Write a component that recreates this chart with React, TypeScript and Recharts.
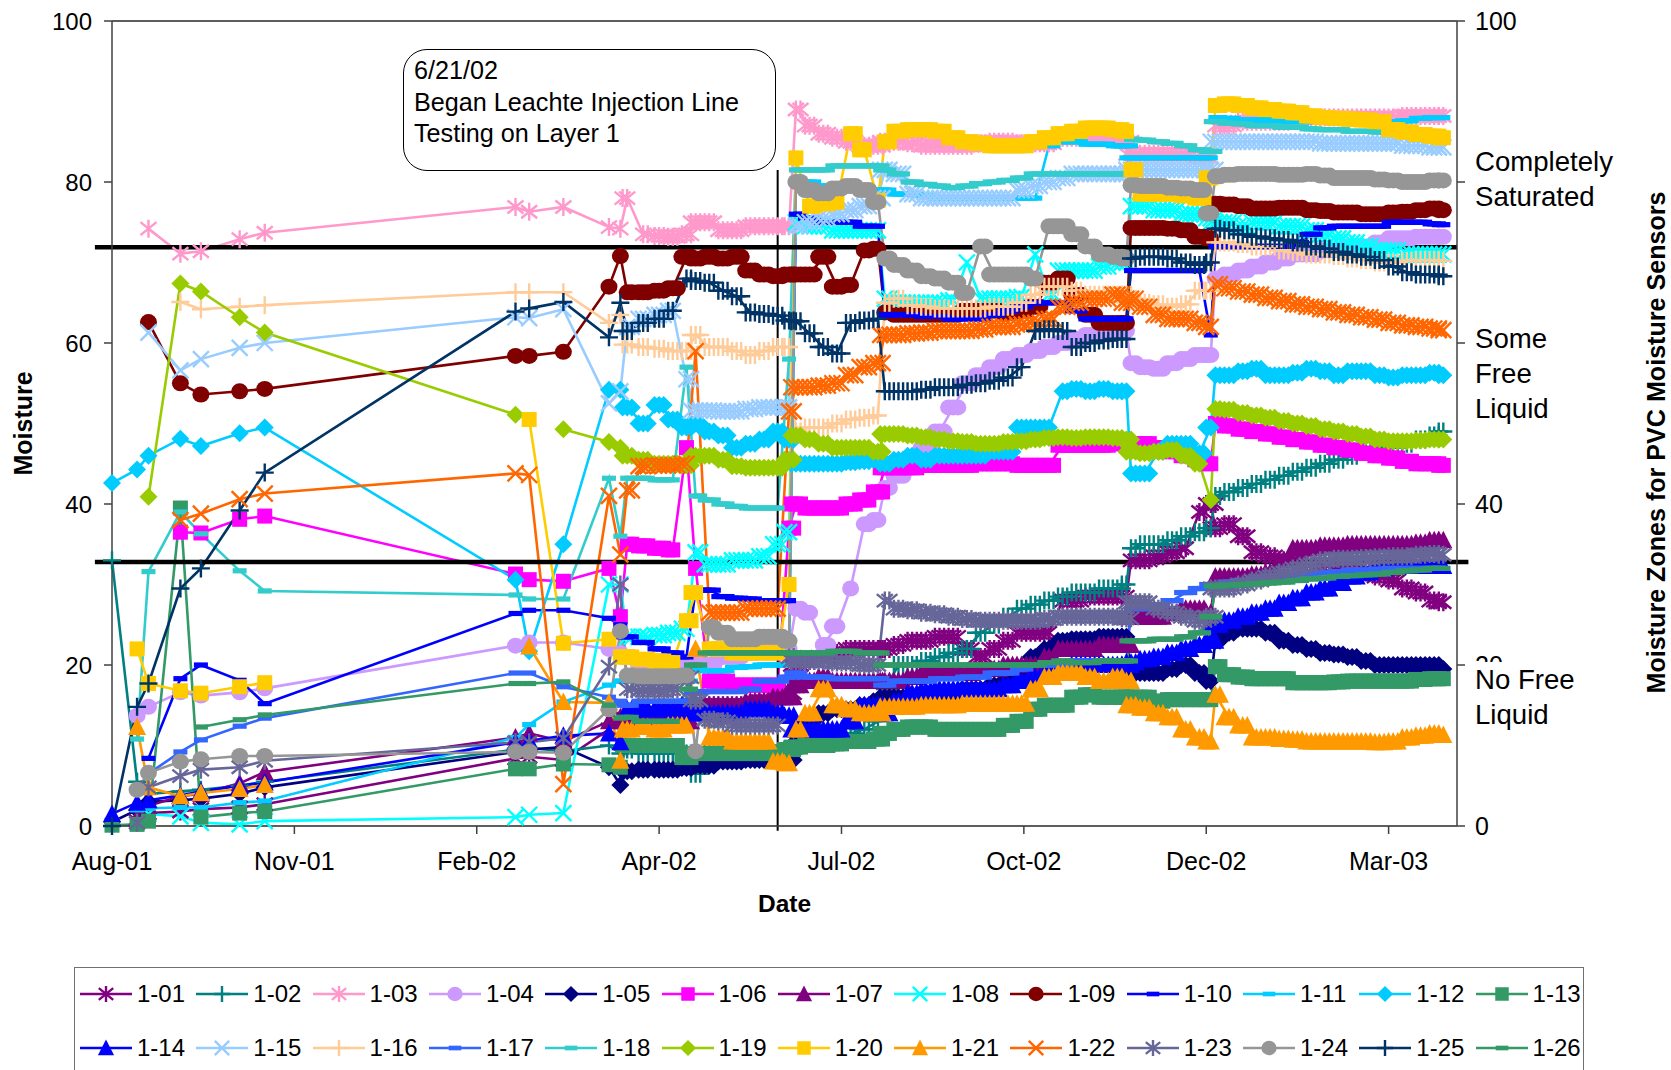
import React from 'react'
import { LineChart, Line, XAxis, YAxis, CartesianGrid, ReferenceLine } from 'recharts'

// days since the start of the axis; one group per line: early readings, then the dense logging stretches
const dates = [
  0, 11, 16, 30, 39, 56, 67, 177, 183, 198, 218, 223,
  226, 233, 240, 246, 252,
  256, 262, 268, 274, 280, 286, 292, 297,
  300, 306, 312, 318, 324, 330, 336,
  339, 345, 351, 357, 363, 369, 375, 381, 387, 393, 399, 405, 411, 417, 423, 429, 435, 441, 445,
  447, 453, 459, 465, 471, 477, 482,
  484, 490, 496, 502, 508, 514, 520, 526, 532, 538, 544, 550, 556, 562, 568, 574, 580, 584
]
const FIRST_DENSE = 12

const xTicks = [0, 80, 160, 240, 320, 400, 480, 560]
const xTickLabels = ['Aug-01', 'Nov-01', 'Feb-02', 'Apr-02', 'Jul-02', 'Oct-02', 'Dec-02', 'Mar-03']
const yTicks = [0, 20, 40, 60, 80, 100]
const rightLabels = [0, 20, 40, 100]

const s01 = [
  null, 0.6, 1.6, 1.8, 2.1, 2.3, 2.7, 8.4, 8.6, 8.2, 12, 13,
  13.5, 13.5, 14, 14, 14,
  15, 15, 15, 15, 15, 15.5, 16, 16.5,
  20, 20.5, 21, 21.5, 22, 22, 22,
  22, 22.5, 23, 23, 23.5, 23.5, 22, 21, 22, 23, 24, 24, 24, 28, 28, 28.5, 28.5, 28.5, 28.5,
  33, 33, 33.5, 34, 34.5, 39, 40,
  37, 37.5, 36, 34, 33.5, 33, 33, 32.5, 32.5, 32, 32, 31.5, 31, 30.5, 29.5, 29, 28, 27.8
]
const s02 = [
  33, 5.5, 4, 4.3, 4.5, 5, 5.5, 9.5, 9.7, 9.3, 10, 9,
  9.5, 9, 9, 9, 9,
  6.5, 9, 9, 9, 9, 9, 9, 9.5,
  10, 10.5, 11, 11, 11.5, 12, 13,
  17, 20, 20, 20.5, 21, 21.5, 22, 24, 25, 26, 27, 27.5, 28, 28.5, 29, 29, 29.5, 29.5, 30,
  34.5, 35, 35, 35.5, 36, 36.5, 37,
  41, 41.5, 42, 42.5, 43, 43.5, 44, 44.5, 45, 45.5, 46, 46.5, 47, 47, 47.5, 48, 48.5, 49
]
const s03 = [
  null, null, 74.2, 71.1, 71.4, 72.9, 73.7, 76.9, 76.3, 76.9, 74.4, 74.2,
  78, 73.5, 73.3, 73.2, 73.5,
  75, 75, 74, 74, 74.5, 74.5, 74.5, 74.5,
  89, 87, 86, 85.5, 85, 84.5, 84.5,
  85, 85, 84.8, 84.5, 84.5, 84.5, 84.5, 84.8, 85, 85, 84.8, 84.8, 84.8, 85.5, 85.5, 85.5, 85.5, 85.3, 85,
  83.5, 83.5, 83.5, 83.5, 83.5, 83, 83,
  87, 87, 87.5, 87.5, 87.5, 87.5, 88, 88, 88, 88, 88, 88, 88, 88, 88.2, 88.2, 88.2, 88.2
]
const s04 = [
  null, 13.7, 14.8, 16.6, 16.2, 16.6, 17.1, 22.4, 22.8, 22.8, 22, 21.5,
  21, 20, 20, 20, 20,
  20, 20, 21, 21, 21.5, 22, 22.5, 22,
  27, 26.5, 22.5, 24.8, 29.5, 37.5, 38,
  42, 43.5, 45, 47, 49, 52, 55, 56, 57, 58, 58.5, 59, 59.5, 60, 60.5, 61, 61, 61.5, 61.5,
  57.5, 57, 56.8, 57.5, 58, 58.5, 58.5,
  68, 68.5, 69, 69.5, 70, 70.5, 71, 71, 71.5, 71.5, 72, 72, 72.5, 73, 73, 73.2, 73.2, 73.2
]
const s05 = [
  0.5, 2, 3, 3.2, 3.4, 4, 4.8, 9.2, 9.5, 9.8, 7.3, 5.1,
  6.8, 7, 7, 7, 7.2,
  7.5, 7.5, 8, 8, 8.2, 8.2, 8.2, 8.2,
  10, 13, 14, 14.5, 14.5, 15, 15.5,
  16, 16, 16, 16.5, 16.5, 16.5, 17, 17, 17.5, 18, 19, 21, 22, 23, 23.2, 23.2, 23.5, 23.5, 23.5,
  19, 19, 19, 19.5, 20, 19, 18,
  23, 24, 24.5, 24.5, 24, 23, 22.5, 22, 21.5, 21.3, 21, 20.5, 20, 20, 20, 20, 20, 19.5
]
const s06 = [
  null, null, null, 36.5, 36.4, 38.1, 38.5, 31.3, 30.6, 30.4, 32, 26,
  35, 34.8, 34.5, 34.3, 47,
  32, 18, 18, 17.5, 17.5, 17.5, 17.5, 37,
  40, 39.5, 39.5, 39.5, 40, 40.5, 41.5,
  44.5, 44.5, 44.5, 44.8, 44.8, 44.8, 44.8, 45, 45, 45, 44.8, 44.8, 44.8, 47.3, 47.3, 47.3, 47.3, 47.5, 47.5,
  47.5, 47.5, 47, 46.5, 46, 45.5, 45,
  50, 49.7, 49.3, 49, 48.7, 48.3, 48, 47.7, 47.3, 47, 46.7, 46.3, 46, 45.7, 45.3, 45, 45, 44.8
]
const s07 = [
  null, 1, 2.5, 3.7, 4, 5.3, 6.7, 11, 11.5, 10.5, 13, 13.5,
  13, 13, 13, 13, 13,
  15, 15, 15, 15, 15.5, 15.5, 16, 16,
  17.5, 18, 18.5, 18, 18, 18, 18,
  18, 18, 18.5, 19, 19, 19, 19, 19.5, 19.5, 20, 20, 20, 21, 22, 22, 22, 22.5, 22.5, 22.5,
  26, 26, 26, 26.5, 27, 27, 26.5,
  31, 31, 31, 31.2, 31.5, 33, 34.5, 34.5, 34.8, 34.8, 35, 35, 35, 35, 35, 35.2, 35.5, 35.5
]
const s08 = [
  null, null, 1.5, 1.2, 0.4, 0.2, 0.6, 1.1, 1.4, 1.6, 30, 30,
  23.5, 23.5, 23.7, 24, 24.5,
  34, 32.5, 32.5, 33, 33, 33.5, 35, 36.5,
  75, 74.5, 74.5, 74, 74, 74, 74,
  65.5, 65, 65, 65, 65, 65.3, 70, 65.5, 65.5, 65.5, 65.7, 71, 66, 69, 69, 69, 69.5, 70, 70,
  77, 77, 76.5, 76.5, 76, 76, 75.5,
  75, 75, 74.5, 75, 75, 74.5, 74.5, 74, 73.5, 73, 72.5, 72, 71.5, 71.5, 71, 71, 71, 71
]
const s09 = [
  null, null, 62.6, 55, 53.6, 54, 54.3, 58.4, 58.4, 58.9, 67, 70.8,
  66.3, 66.3, 66.5, 66.8, 70.7,
  70.5, 70.7, 70.5, 70.7, 69, 68.5, 68.3, 68.5,
  68.5, 68.5, 70.7, 67, 67.2, 71.5, 71.7,
  63.8, 63.5, 63.5, 63.5, 63.5, 63.5, 64, 64, 64, 63.7, 64, 64.5, 67.5, 68, 66, 63.5, 62.5, 62.5, 62.5,
  74.3, 74.3, 74.3, 74.2, 74, 73.2, 73,
  77.3, 77.2, 77, 76.7, 76.7, 76.8, 76.8, 76.5, 76.4, 76.2, 76.2, 76, 76, 76.2, 76.3, 76.5, 76.7, 76.5
]
const s10 = [
  0.5, null, 8.4, 18.3, 20, 18.1, 15.2, 26.4, 26.8, 26.8, 25.8, 25,
  23.5, 22.8, 22, 21.5, 21,
  29.3, 29.3, 28.5, 28.3, 28.2, 28, 28, 28,
  76, 75.5, 75, 75, 75, 74.5, 74.5,
  63.5, 63.5, 63.5, 63.3, 63.3, 63, 63, 63, 63.5, 64, 64.5, 65, 65, 65, 64, 63, 63, 63, 63,
  69, 69, 69, 69, 69, 69, 61,
  72, 72, 72, 72, 72, 72, 72.5, 73.5, 74.3, 74.5, 74.5, 74.5, 74.5, 75, 75, 75, 74.8, 74.7
]
const s11 = [
  null, 2, 2.2, 2.3, 2.3, 2.9, 3.1, 11, 12.6, 15.4, 17.5, 18,
  18, 18, 18, 18, 18,
  19.5, 19.3, 19.3, 19.7, 19.8, 20, 20, 20,
  80, 80, 79.5, 79.5, 79.5, 79.3, 79,
  79, 78.5, 78.5, 78.3, 78, 78, 78, 78, 78, 78, 78, 78, 84.5, 85, 85, 84.7, 84.7, 84.5, 84.5,
  83, 83, 83, 83, 83, 83, 83,
  88, 87.9, 87.7, 87.7, 87.7, 87.5, 87.5, 87.5, 87.5, 87.5, 87.5, 87.5, 87.5, 87.5, 87.6, 87.9, 88, 88
]
const s12 = [
  42.6, 44.3, 46, 48.1, 47.2, 48.8, 49.5, 30.6, 21.7, 35, 54.2, 54.2,
  52, 50, 52.3, 50.5, 49.5,
  50, 49, 48.5, 47, 47.5, 48, 49, 48,
  45, 45, 45, 45, 45.2, 45.3, 45.5,
  45, 45.5, 46, 45.5, 46, 46, 46, 46, 46.5, 46.5, 49.5, 49.5, 49.5, 54, 54.3, 54, 54.3, 54, 54,
  43.8, 43.8, 46.5, 47.5, 47.5, 46.3, 49.5,
  56, 56, 56.5, 56.8, 56, 56, 56.3, 56.8, 56.5, 56, 56.5, 56.5, 56, 55.7, 56, 56, 56.3, 56
]
const s13 = [
  0.1, 0.2, 0.6, 39.5, 1.1, 1.6, 1.8, 7.1, 7.1, 7.7, 7.6, 7.3,
  10, 10, 10, 10, 8.5,
  9, 9, 9, 9, 9, 9, 9.2, 9.5,
  9.8, 10, 10, 10.2, 10.5, 10.5, 10.8,
  11.5, 12, 12.3, 12.3, 12, 12, 12, 12, 12, 12.5, 13, 14.5, 15, 15, 16, 16.3, 16, 16, 16,
  16, 16, 15.5, 15.7, 15.7, 15.7, 15.7,
  19.8, 18.8, 18.5, 18.3, 18.3, 18.3, 17.8, 17.8, 17.8, 17.9, 18, 18, 18, 18, 18, 18.2, 18.3, 18.3
]
const s14 = [
  1.5, 2.9, 3.2, 3.8, 4.3, 5, 5.4, 10.4, 10.6, 11.2, 11.5, 10.4,
  14.5, 14.5, 14.5, 14.5, 15,
  14, 14, 14, 14, 14.5, 14.5, 14, 13.7,
  12, 12, 12, 12, 13, 15, 15,
  14, 15.5, 16.5, 16.8, 17, 17, 17, 17, 17, 17.5, 18, 18.5, 19, 19.5, 20, 20, 20, 20, 20,
  20.3, 20.7, 21, 21.5, 22, 22.5, 23,
  25, 25.5, 26, 26.5, 27, 27.7, 28.3, 29, 29.5, 30.2, 31, 31.5, 32, 32.2, 32.3, 32.3, 32.3, 32.3
]
const s15 = [
  null, null, 61.3, 56.6, 58, 59.4, 60, 63.2, 63.1, 64.2, 52.5, 54,
  62, 63, 63.5, 64, 55.5,
  51.6, 51.6, 51.5, 51.5, 51.8, 52, 52, 52,
  74.5, 75, 75.5, 76, 76.5, 77, 78,
  81.5, 81, 78.5, 78, 78, 78, 78, 78, 78, 78, 79, 79.5, 80, 80.5, 81, 81, 81, 81, 81,
  81.5, 81.5, 81.5, 81.5, 81.5, 81.5, 81.5,
  85, 85, 85, 85, 85, 85, 85, 85, 84.8, 84.8, 84.8, 84.8, 84.8, 84.8, 84.5, 84.5, 84.3, 84.3
]
const s16 = [
  null, null, null, 65.1, 64.2, 64.5, 64.7, 66.3, 66.3, 66.3, 62.5, 63.5,
  59.8, 59.5, 59.3, 59, 59,
  61, 59.5, 59.5, 59, 58.5, 59, 59.5, 59.5,
  49, 49.5, 49.5, 50, 50.5, 50.7, 51,
  65, 65.5, 64.7, 64.5, 64.3, 64.3, 64.3, 64.3, 64.5, 64.5, 65, 66, 67, 67, 66.5, 66, 66, 66, 66,
  65.5, 65, 64.8, 64.5, 64.8, 66.5, 66.5,
  72.5, 72.5, 72.3, 72, 72, 71.5, 71.3, 71, 71, 70.8, 70.5, 70.3, 70, 70, 70.2, 70.3, 70.3, 70.2
]
const s17 = [
  null, null, 6.5, 9.2, 10.7, 12.4, 13.4, 19, 19, 17.3, 16, 15.5,
  15, 15.5, 15.5, 15.5, 15.5,
  16.5, 16.7, 16.7, 16.7, 17, 18, 18, 18.5,
  19, 18.5, 18.5, 18.3, 18.3, 18.3, 18.3,
  17.5, 18, 18, 18, 18.3, 18.3, 18.5, 18.5, 19, 19, 19.5, 20, 20, 20, 20.5, 20.5, 20.5, 20.5, 20.5,
  27, 27, 27.5, 28, 29, 29.5, 30,
  30, 30.3, 30.5, 30.7, 30.8, 31, 31.2, 31.4, 31.5, 31.6, 31.8, 31.8, 31.9, 32, 32, 32, 32, 32
]
const s18 = [
  null, 10.8, 31.6, 39, 36.3, 31.7, 29.2, 28.7, 28.2, 28.2, 43.2, 36,
  43.2, 43.2, 43, 43, 57,
  41, 40.5, 40, 39.7, 39.5, 39.5, 39.5, 58,
  81.5, 81.5, 81.5, 82, 82, 82, 82,
  81.5, 81, 80, 79.7, 79.5, 79.3, 79.5, 79.8, 80, 80.2, 80.5, 81, 81, 81, 81, 81, 81, 81, 81,
  85.3, 85.2, 85, 84.8, 84.5, 84, 83.8,
  87.5, 87.3, 87.2, 87, 87, 86.8, 86.8, 86.6, 86.5, 86.5, 86.3, 86.3, 86.2, 86, 86, 86, 86, 86
]
const s19 = [
  null, null, 40.9, 67.4, 66.4, 63.2, 61.3, 51.1, null, 49.3, 47.7, 47,
  46, 45.5, 45, 45, 44.8,
  46, 46, 45.5, 44.7, 44.5, 44.5, 44.5, 45.5,
  48.5, 48, 47.5, 47, 47, 47, 46.5,
  48.7, 48.7, 48.5, 48.3, 48, 47.8, 47.7, 47.5, 47.5, 47.7, 47.8, 48, 48.2, 48.3, 48.2, 48.3, 48.3, 48.2, 48,
  46.5, 46.3, 46.5, 46.7, 46, 45, 40.5,
  51.8, 51.7, 51.3, 51, 50.7, 50.3, 50, 49.7, 49.3, 49, 48.7, 48.4, 48, 47.8, 47.8, 47.9, 48, 48
]
const s20 = [
  null, 22, 17.7, 16.8, 16.5, 17.3, 17.8, null, 50.5, 22.7, 23.2, 21,
  21, 20.7, 20.5, 20.3, 25.5,
  29, 22, 22, 21.5, 21.5, 21.5, 21.5, 30,
  83, 77, 77.3, 77.5, 86, 84, 77.7,
  85, 86.3, 86.5, 86.5, 86.3, 85.5, 85, 84.8, 84.5, 84.5, 84.5, 85, 85.5, 86, 86.3, 86.7, 86.7, 86.5, 86.3,
  81.5, 78.5, 78.5, 78.5, 78.3, 78, 80.5,
  89.5, 89.7, 89.5, 89.2, 89, 88.8, 88.6, 88.2, 88, 87.9, 87.8, 87.7, 87.5, 86.5, 86.2, 85.9, 85.7, 85.5
]
const s21 = [
  null, 12.3, 4.8, 3.7, 4.1, 4.6, 5.1, null, 22.3, 15.4, 15.3, 8.1,
  12, 12.3, 12, 12.5, 12.5,
  22, 11, 11, 10.5, 10.5, 10.5, 8, 7.8,
  12, 14, 17, 15, 14.5, 14, 14,
  14.8, 14.8, 14.8, 15, 15, 15, 15.2, 15.2, 15.2, 15.2, 15.2, 17, 18.5, 19, 19, 18.5, 18, 18.5, 18,
  15, 14.7, 14, 13.5, 12, 11, 10.5,
  16.3, 13.5, 12.5, 11, 11, 10.8, 10.7, 10.5, 10.5, 10.5, 10.5, 10.5, 10.4, 10.5, 11, 11.2, 11.5, 11.3
]
const s22 = [
  null, null, null, 38, 38.8, 40.6, 41.3, 43.8, 43.6, 5.2, 41, 33.7,
  41.7, 44.7, 44.8, 44.8, 45,
  59, 26.5, 26.5, 26.5, 27, 27, 27, 51.5,
  54.5, 54.5, 54.7, 55, 56, 57, 57.5,
  61, 61, 61.2, 61.3, 61.5, 61.5, 61.5, 61.7, 62, 62, 62.3, 62.5, 63, 64.5, 65, 65.5, 65.5, 66, 65,
  65.5, 64.5, 63.5, 63, 63, 62.5, 62,
  67.3, 66.8, 66.4, 66, 65.6, 65.2, 64.8, 64.5, 64.2, 63.8, 63.5, 63.2, 62.9, 62.5, 62.2, 62, 61.8, 61.6
]
const s23 = [
  null, 0.4, 4.8, 6.2, 7, 7.3, 8.1, 10.4, 10.4, 10.9, 19.8, 30,
  17, 16.8, 16.8, 17, 18.5,
  15.6, 13.2, 13, 12.5, 12.5, 12.5, 12.5, 21,
  20.5, 20.5, 20.5, 20.3, 20.3, 20, 20,
  28, 27, 26.8, 26.5, 26.3, 26, 25.7, 25.5, 25.5, 25.5, 25.5, 25.5, 25.7, 26, 26, 26, 26, 26, 25.8,
  27.8, 27.8, 27, 26.5, 26, 25.5, 26,
  29.5, 29.5, 30, 30.5, 31, 31.5, 32, 32.5, 33, 33.2, 33.2, 33.3, 33.4, 33.5, 33.5, 33.7, 33.8, 33.7
]
const s24 = [
  null, 4.5, 6.6, 8, 8.3, 8.7, 8.7, 9.2, 9.2, 9.1, 14.5, 24.2,
  18.7, 18.6, 18.6, 18.6, 18.7,
  9.3, 24.7, 24, 23.2, 23.2, 23.5, 23.5, 23,
  80, 79, 78.6, 79.2, 79.5, 79, 77.5,
  70.5, 69.7, 69, 68.3, 68, 67.5, 66.2, 72, 68.5, 68.5, 68.5, 68, 74.5, 74.5, 73.5, 72, 71, 70.7, 70.5,
  79.6, 79.5, 79.5, 79.3, 79.2, 79, 76.1,
  80.7, 80.9, 81, 81, 81, 80.9, 80.9, 81, 80.8, 80.5, 80.5, 80.5, 80.3, 80.2, 80, 80, 80.2, 80.2
]
const s25 = [
  0, 14.8, 17.7, 29.5, 32, 39.2, 43.9, 63.9, 64.3, 65.1, 60.7, 65,
  61.5, 62.5, 63, 64, 68,
  67.7, 67.5, 66.5, 65.8, 63.8, 63.6, 63.4, 62.8,
  62.7, 61.2, 59.5, 58.7, 62.5, 62.8, 63,
  54, 54, 54, 54.2, 54.5, 54.5, 54.8, 55, 55.3, 55.7, 57, 61.5, 61.7, 61.5, 59.5, 60, 60.3, 60.5, 60.5,
  70.5, 70.7, 70.7, 70.5, 70, 69.7, 70,
  74.2, 74, 73.5, 73.2, 73, 72.8, 72.5, 72, 71.7, 71.3, 71, 70.7, 70.3, 69.5, 68.8, 68.5, 68.5, 68.3
]
const s26 = [
  null, null, null, null, 12.3, 13.2, 13.8, 17.7, 17.7, 17.9, 15, 13.4,
  13.5, 13, 13, 13, 17,
  20, 21.5, 21.5, 21.5, 21.5, 21.5, 21.5, 21.5,
  21.5, 21.5, 21.5, 21.7, 21.7, 21.5, 21.5,
  20, 20, 20, 20, 20, 20, 20, 20, 20, 20, 20, 20, 20.3, 20.5, 20.3, 20.3, 20.5, 20.5, 20.5,
  23, 23, 23.2, 23.2, 23.5, 24, 26,
  29.8, 29.9, 30, 30.1, 30.2, 30.3, 30.5, 30.7, 30.8, 31, 31.1, 31.2, 31.3, 31.5, 31.7, 31.8, 32, 32
]

const sensors = [
  { name: '1-01', values: s01, color: '#800080', marker: 'star' },
  { name: '1-02', values: s02, color: '#008080', marker: 'plus' },
  { name: '1-03', values: s03, color: '#FF99CC', marker: 'star' },
  { name: '1-04', values: s04, color: '#CC99FF', marker: 'circle' },
  { name: '1-05', values: s05, color: '#000080', marker: 'diamond' },
  { name: '1-06', values: s06, color: '#FF00FF', marker: 'square' },
  { name: '1-07', values: s07, color: '#800080', marker: 'triangle' },
  { name: '1-08', values: s08, color: '#00FFFF', marker: 'cross' },
  { name: '1-09', values: s09, color: '#800000', marker: 'circle' },
  { name: '1-10', values: s10, color: '#0000FF', marker: 'dash' },
  { name: '1-11', values: s11, color: '#00CCFF', marker: 'dash' },
  { name: '1-12', values: s12, color: '#00CCFF', marker: 'diamond' },
  { name: '1-13', values: s13, color: '#339966', marker: 'square' },
  { name: '1-14', values: s14, color: '#0000FF', marker: 'triangle' },
  { name: '1-15', values: s15, color: '#99CCFF', marker: 'cross' },
  { name: '1-16', values: s16, color: '#FFCC99', marker: 'plus' },
  { name: '1-17', values: s17, color: '#3366FF', marker: 'dash' },
  { name: '1-18', values: s18, color: '#33CCCC', marker: 'dash' },
  { name: '1-19', values: s19, color: '#99CC00', marker: 'diamond' },
  { name: '1-20', values: s20, color: '#FFCC00', marker: 'square' },
  { name: '1-21', values: s21, color: '#FF9900', marker: 'triangle' },
  { name: '1-22', values: s22, color: '#FF6600', marker: 'cross' },
  { name: '1-23', values: s23, color: '#666699', marker: 'star' },
  { name: '1-24', values: s24, color: '#969696', marker: 'circle' },
  { name: '1-25', values: s25, color: '#003366', marker: 'plus' },
  { name: '1-26', values: s26, color: '#339966', marker: 'dash' }
]

const chartData = dates.map((day, i) => {
  const row: any = { day }
  sensors.forEach((s) => {
    row[s.name] = s.values[i]
  })
  return row
})

const FONT = '"Liberation Sans", Arial, sans-serif'

function markerShape(kind: string, color: string, x: number, y: number, s = 1) {
  const lw = 2.4
  switch (kind) {
    case 'square':
      return <rect x={x - 7.5 * s} y={y - 7.5 * s} width={15 * s} height={15 * s} fill={color} />
    case 'circle':
      return <ellipse cx={x} cy={y} rx={8.5 * s} ry={8 * s} fill={color} />
    case 'diamond':
      return <path d={`M${x - 9 * s} ${y}L${x} ${y - 9 * s}L${x + 9 * s} ${y}L${x} ${y + 9 * s}Z`} fill={color} />
    case 'triangle':
      return <path d={`M${x} ${y - 9.5 * s}L${x + 9 * s} ${y + 8 * s}L${x - 9 * s} ${y + 8 * s}Z`} fill={color} />
    case 'dash':
      return <rect x={x - 7 * s} y={y - 2.6 * s} width={14 * s} height={5.2 * s} fill={color} />
    case 'plus':
      return <path d={`M${x - 9 * s} ${y}H${x + 9 * s}M${x} ${y - 9 * s}V${y + 9 * s}`} stroke={color} strokeWidth={lw} fill="none" />
    case 'cross':
      return <path d={`M${x - 8 * s} ${y - 8 * s}L${x + 8 * s} ${y + 8 * s}M${x + 8 * s} ${y - 8 * s}L${x - 8 * s} ${y + 8 * s}`} stroke={color} strokeWidth={lw} fill="none" />
    default:
      return (
        <path
          d={`M${x} ${y - 9 * s}V${y + 9 * s}M${x - 8 * s} ${y - 6.5 * s}L${x + 8 * s} ${y + 6.5 * s}M${x + 8 * s} ${y - 6.5 * s}L${x - 8 * s} ${y + 6.5 * s}`}
          stroke={color}
          strokeWidth={lw}
          fill="none"
        />
      )
  }
}

// the logger read daily, so markers overlap into bands: widen a dense reading towards close neighbours
function isClose(a: any, b: any) {
  return a != null && b != null && Math.abs(a - b) < 4
}

function sensorDot(s: any, p: any) {
  if (p.cy == null || p.value == null) return <g key={`${s.name}-${p.index}`} />
  const i = p.index
  const dense = i >= FIRST_DENSE
  return (
    <g key={`${s.name}-${i}`}>
      {dense && isClose(s.values[i], s.values[i - 1]) && markerShape(s.marker, s.color, p.cx - 4.6, p.cy)}
      {markerShape(s.marker, s.color, p.cx, p.cy)}
      {dense && isClose(s.values[i], s.values[i + 1]) && markerShape(s.marker, s.color, p.cx + 4.6, p.cy)}
    </g>
  )
}

const labelStyle: React.CSSProperties = {
  position: 'absolute',
  fontFamily: FONT,
  fontSize: 27.6,
  color: '#000',
  background: '#fff',
  lineHeight: '35px',
  whiteSpace: 'pre',
  paddingRight: 30
}

export default function App() {
  return (
    <div style={{ position: 'absolute', left: 0, top: 0, width: 1671, height: 1070, overflow: 'hidden', background: '#fff' }}>
      <LineChart
        width={1671}
        height={1070}
        data={chartData}
        margin={{ top: 21, right: 0, bottom: 0, left: 0 }}
        style={{ fontFamily: FONT }}
      >
        <CartesianGrid horizontal vertical={false} stroke="#707070" strokeWidth={1} />
        <XAxis
          dataKey="day"
          type="number"
          domain={[0, 590]}
          ticks={xTicks}
          interval={0}
          height={244}
          tickSize={8}
          tickMargin={18}
          stroke="#404040"
          strokeWidth={1.5}
          tick={{ fill: '#000', fontSize: 25 }}
          tickFormatter={(v: number) => xTickLabels[xTicks.indexOf(v)]}
          label={{ value: 'Date', position: 'insideTop', dy: 64, dx: 0, fill: '#000', fontSize: 24.5, fontWeight: 'bold' }}
        />
        <YAxis
          yAxisId="left"
          domain={[0, 100]}
          ticks={yTicks}
          interval={0}
          width={112}
          tickSize={8}
          tickMargin={12}
          stroke="#404040"
          strokeWidth={1.5}
          tick={{ fill: '#000', fontSize: 24 }}
          label={{ value: 'Moisture', angle: -90, position: 'insideLeft', dx: 18, dy: 52, fill: '#000', fontSize: 25, fontWeight: 'bold' }}
        />
        <YAxis
          yAxisId="right"
          orientation="right"
          domain={[0, 100]}
          ticks={yTicks}
          interval={0}
          width={214}
          tickSize={8}
          tickMargin={10}
          stroke="#404040"
          strokeWidth={1.5}
          tick={{ fill: '#000', fontSize: 25 }}
          tickFormatter={(v: number) => (rightLabels.includes(v) ? String(v) : '')}
          label={{ value: 'Moisture Zones for PVC Moisture Sensors', angle: -90, position: 'insideRight', dx: -10, dy: -232, fill: '#000', fontSize: 25.1, fontWeight: 'bold' }}
        />
        <ReferenceLine yAxisId="left" y={100} stroke="#404040" strokeWidth={1.5} />
        <Line yAxisId="right" dataKey="1-01" stroke="none" dot={false} activeDot={false} isAnimationActive={false} legendType="none" />
        {sensors.map((s) => (
          <Line
            key={s.name}
            yAxisId="left"
            dataKey={s.name}
            stroke={s.color}
            strokeWidth={2.6}
            isAnimationActive={false}
            legendType="none"
            activeDot={false}
            dot={(p: any) => sensorDot(s, p)}
          />
        ))}
        <ReferenceLine
          yAxisId="left"
          ifOverflow="visible"
          segment={[{ x: -7.5, y: 71.9 }, { x: 590, y: 71.9 }]}
          stroke="#000"
          strokeWidth={4.5}
        />
        <ReferenceLine
          yAxisId="left"
          ifOverflow="visible"
          segment={[{ x: -7.5, y: 32.8 }, { x: 595, y: 32.8 }]}
          stroke="#000"
          strokeWidth={4.5}
        />
        <ReferenceLine
          yAxisId="left"
          ifOverflow="visible"
          segment={[{ x: 292, y: 81.5 }, { x: 292, y: -0.6 }]}
          stroke="#000"
          strokeWidth={2}
        />
      </LineChart>

      <div
        style={{
          position: 'absolute',
          left: 403,
          top: 49,
          width: 373,
          height: 122,
          boxSizing: 'border-box',
          border: '1.5px solid #000',
          borderRadius: 24,
          background: '#fff',
          fontFamily: FONT,
          fontSize: 25.2,
          lineHeight: '31.6px',
          padding: '5px 0 0 10px',
          whiteSpace: 'pre'
        }}
      >
        {'6/21/02\nBegan Leachte Injection Line\nTesting on Layer 1'}
      </div>

      <div style={{ ...labelStyle, left: 1475, top: 144 }}>{'Completely\nSaturated'}</div>
      <div style={{ ...labelStyle, left: 1475, top: 321 }}>{'Some\nFree\nLiquid'}</div>
      <div style={{ ...labelStyle, left: 1475, top: 662 }}>{'No Free\nLiquid'}</div>

      <div
        style={{
          position: 'absolute',
          left: 74,
          top: 967,
          width: 1510,
          height: 120,
          boxSizing: 'border-box',
          border: '1.5px solid #707070',
          background: '#fff',
          fontFamily: FONT,
          fontSize: 24
        }}
      >
        {sensors.map((s, i) => (
          <div
            key={s.name}
            style={{
              position: 'absolute',
              left: 5 + (i % 13) * 116.3,
              top: i < 13 ? 10 : 64,
              height: 32,
              display: 'flex',
              alignItems: 'center'
            }}
          >
            <svg width={53} height={32} style={{ display: 'block' }}>
              <line x1={0} y1={16} x2={52} y2={16} stroke={s.color} strokeWidth={2.6} />
              {markerShape(s.marker, s.color, 26, 16, 0.9)}
            </svg>
            <span style={{ marginLeft: 4 }}>{s.name}</span>
          </div>
        ))}
      </div>
    </div>
  )
}
